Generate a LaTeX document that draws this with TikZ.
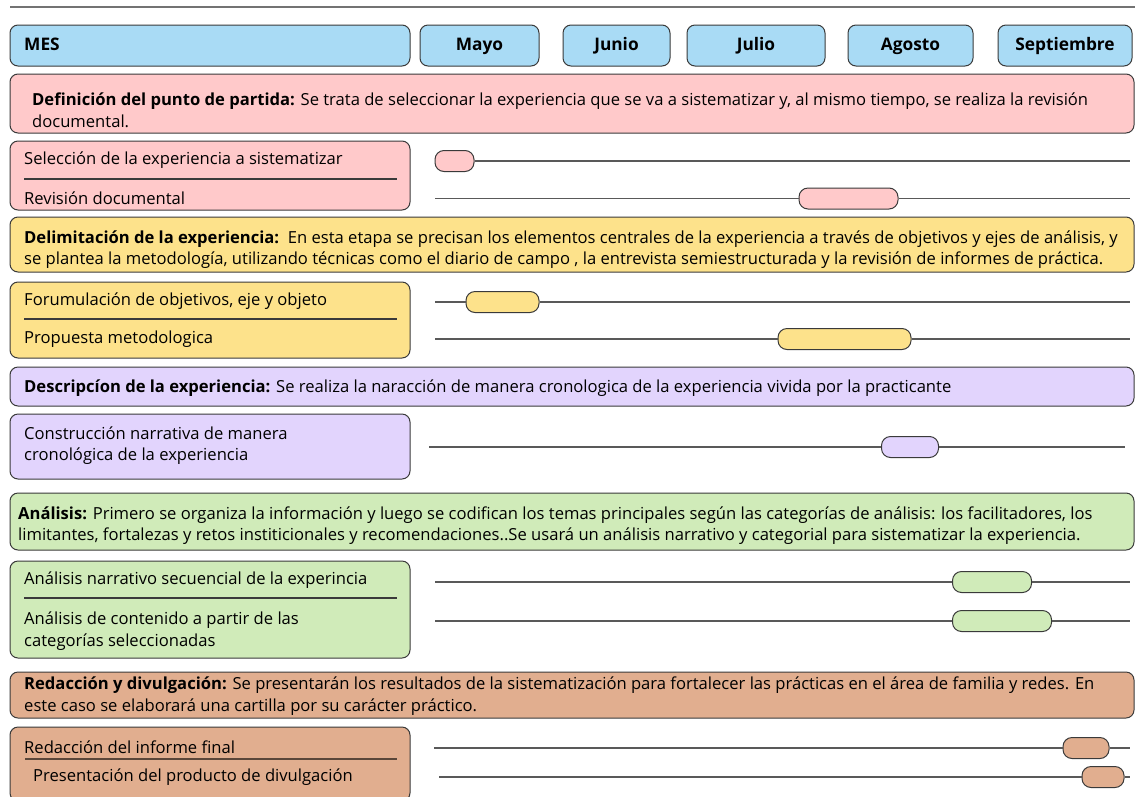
\documentclass[tikz,border=0pt]{standalone}
\usepackage{fontspec}
\setmainfont{Open Sans}
\usetikzlibrary{positioning}

\definecolor{mesblue}{HTML}{A9DBF5}
\definecolor{rosa}{HTML}{FFC9CA}
\definecolor{amarillo}{HTML}{FDE28B}
\definecolor{lila}{HTML}{E2D4FD}
\definecolor{verde}{HTML}{D0EBB9}
\definecolor{cafe}{HTML}{E1AE8F}
\definecolor{borde}{HTML}{3A3A3A}

\tikzset{
  box/.style={draw=borde, line width=1pt, rounded corners=8pt, inner sep=0pt},
  mes/.style={box, fill=mesblue, minimum height=41pt, text height=12.5pt, text depth=3.5pt, font=\bfseries\fontsize{17.3}{20}\selectfont},
  etapa/.style={box, minimum width=1124pt},
  tarea/.style={box, minimum width=400pt},
  txt/.style={anchor=west, inner sep=0pt, align=left, font=\fontsize{16.6}{21.5}\selectfont},
  pill/.style={draw=borde, line width=1pt, rounded corners=9pt, minimum height=21pt, inner sep=0pt},
  track/.style={draw=black!65, line width=1.1pt},
  sep/.style={draw=borde, line width=1.1pt},
}

\begin{document}
\begin{tikzpicture}[x=1pt,y=-1pt]
  \useasboundingbox (0,0) rectangle (1135,796);
  % linea superior
  \coordinate (top1) at (10,7);
  \coordinate (top2) at (1135,7);
  \draw [black!55, line width=1.2pt] (top1) -- (top2);

  % meses
  \node [mes, minimum width=400pt] (MES) at (210,45.5) {};
  \node [txt, text height=12.5pt, text depth=3.5pt, font=\bfseries\fontsize{17.3}{20}\selectfont] (MESt) at (24,45.5) {MES};
  \node [mes, minimum width=119pt] (may) at (479.5,45.5) {Mayo};
  \node [mes, minimum width=107pt] (jun) at (616.5,45.5) {Junio};
  \node [mes, minimum width=138pt] (jul) at (756,45.5) {Julio};
  \node [mes, minimum width=125pt] (ago) at (910.5,45.5) {Agosto};
  \node [mes, minimum width=134pt] (sep) at (1065,45.5) {Septiembre};

  % etapa 1
  \node [etapa, fill=rosa, minimum height=59pt] (E1) at (572,103.5) {};
  \node [txt] (E1t) at (32,110.5) {\textbf{Definición del punto de partida:} Se trata de seleccionar la experiencia que se va a sistematizar y, al mismo tiempo, se realiza la revisión\\documental.};
  \node [tarea, fill=rosa, minimum height=69pt] (T1) at (210,175.5) {};
  \node [txt] (T1a) at (24,160) {Selección de la experiencia a sistematizar};
  \node [txt] (T1b) at (24,198) {Revisión documental};
  \coordinate (d1a) at (24,179);
  \coordinate (d1b) at (397,179);
  \draw [sep] (d1a) -- (d1b);
  \coordinate (b1) at (1130,161);
  \coordinate (a2) at (435,198.5); \coordinate (b2) at (1130,198.5);
  \node [pill, fill=rosa, minimum width=39pt] (p1) at (454.5,161) {};
  \node [pill, fill=rosa, minimum width=99pt] (p2) at (848.5,198.5) {};
  \draw [track] (p1.east) -- (b1);
  \draw [track] (a2) -- (p2.west);
  \draw [track] (p2.east) -- (b2);

  % etapa 2
  \node [etapa, fill=amarillo, minimum height=55pt] (E2) at (572,244.5) {};
  \node [txt] (E2t) at (24,249.5) {\textbf{Delimitación de la experiencia:}\ \ En esta etapa se precisan los elementos centrales de la experiencia a través de objetivos y ejes de análisis, y\\se plantea la metodología, utilizando técnicas como el diario de campo , la entrevista semiestructurada y la revisión de informes de práctica.};
  \node [tarea, fill=amarillo, minimum height=76pt] (T2) at (210,320) {};
  \node [txt] (T2a) at (24,301) {Forumulación de objetivos, eje y objeto};
  \node [txt] (T2b) at (24,339) {Propuesta metodologica};
  \coordinate (d2a) at (24,319);
  \coordinate (d2b) at (397,319);
  \draw [sep] (d2a) -- (d2b);
  \coordinate (a3) at (435,302); \coordinate (b3) at (1130,302);
  \coordinate (a4) at (435,339); \coordinate (b4) at (1130,339);
  \node [pill, fill=amarillo, minimum width=73pt] (p3) at (502.5,302) {};
  \node [pill, fill=amarillo, minimum width=133pt] (p4) at (844.5,339) {};
  \draw [track] (a3) -- (p3.west);
  \draw [track] (p3.east) -- (b3);
  \draw [track] (a4) -- (p4.west);
  \draw [track] (p4.east) -- (b4);

  % etapa 3
  \node [etapa, fill=lila, minimum height=39pt] (E3) at (572,386.5) {};
  \node [txt] (E3t) at (24,388) {\textbf{Descripcíon de la experiencia:} Se realiza la naracción de manera cronologica de la experiencia vivida por la practicante};
  \node [tarea, fill=lila, minimum height=65pt] (T3) at (210,446.5) {};
  \node [txt] (T3a) at (24,445.5) {Construcción narrativa de manera\\cronológica de la experiencia};
  \coordinate (a5) at (429,447); \coordinate (b5) at (1125,447);
  \node [pill, fill=lila, minimum width=57pt] (p5) at (910,447) {};
  \draw [track] (a5) -- (p5.west);
  \draw [track] (p5.east) -- (b5);

  % etapa 4
  \node [etapa, fill=verde, minimum height=57pt] (E4) at (572,521.5) {};
  \node [txt] (E4t) at (18,525.5) {\textbf{Análisis:} Primero se organiza la información y luego se codifican los temas principales según las categorías de análisis: los facilitadores, los\\limitantes, fortalezas y retos institicionales y recomendaciones..Se usará un análisis narrativo y categorial para sistematizar la experiencia.};
  \node [tarea, fill=verde, minimum height=97pt] (T4) at (210,609.5) {};
  \node [txt] (T4a) at (24,580) {Análisis narrativo secuencial de la experincia};
  \node [txt] (T4b) at (24,631) {Análisis de contenido a partir de las\\categorías seleccionadas};
  \coordinate (d4a) at (24,598);
  \coordinate (d4b) at (397,598);
  \draw [sep] (d4a) -- (d4b);
  \coordinate (a6) at (435,582); \coordinate (b6) at (1130,582);
  \coordinate (a7) at (435,621); \coordinate (b7) at (1130,621);
  \node [pill, fill=verde, minimum width=79pt] (p6) at (992,582) {};
  \node [pill, fill=verde, minimum width=99pt] (p7) at (1002,621) {};
  \draw [track] (a6) -- (p6.west);
  \draw [track] (p6.east) -- (b6);
  \draw [track] (a7) -- (p7.west);
  \draw [track] (p7.east) -- (b7);

  % etapa 5
  \node [etapa, fill=cafe, minimum height=46pt] (E5) at (572,695) {};
  \node [txt] (E5t) at (24,696) {\textbf{Redacción y divulgación:} Se presentarán los resultados de la sistematización para fortalecer las prácticas en el área de familia y redes. En\\este caso se elaborará una cartilla por su carácter práctico.};
  \node [tarea, fill=cafe, minimum height=74pt] (T5) at (210,764) {};
  \node [txt] (T5a) at (24,747) {Redacción del informe final};
  \node [txt] (T5b) at (33,777) {Presentación del producto de divulgación};
  \coordinate (d5a) at (25,759);
  \coordinate (d5b) at (397,759);
  \draw [sep, draw=black!60!cafe] (d5a) -- (d5b);
  \coordinate (a8) at (434,748); \coordinate (b8) at (1130,748);
  \coordinate (a9) at (439,777); \coordinate (b9) at (1130,777);
  \node [pill, fill=cafe, minimum width=46pt] (p8) at (1086,748) {};
  \node [pill, fill=cafe, minimum width=42pt] (p9) at (1103,777) {};
  \draw [track] (a8) -- (p8.west);
  \draw [track] (p8.east) -- (b8);
  \draw [track] (a9) -- (p9.west);
  \draw [track] (p9.east) -- (b9);
\end{tikzpicture}
\end{document}
